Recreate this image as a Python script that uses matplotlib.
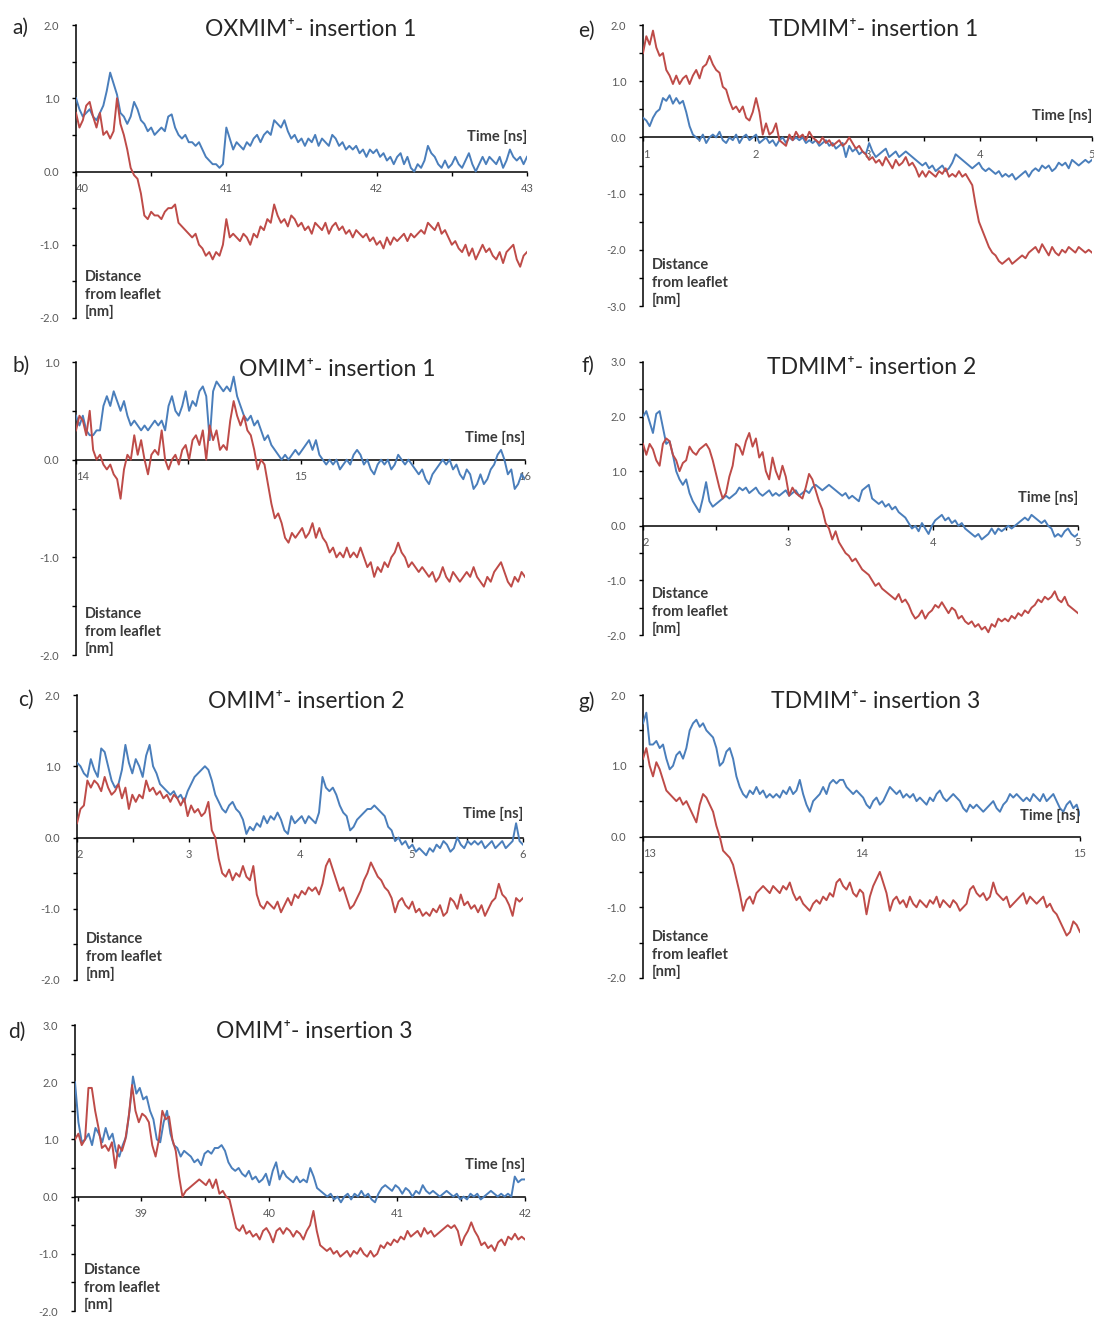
# coding:utf-8
# distance of the cation head/tail from the leaflet during insertion

import numpy as np
import matplotlib
matplotlib.use('Agg')
import matplotlib.pyplot as plt
from matplotlib.ticker import MultipleLocator

plt.rcParams['font.family'] = ['Lato', 'DejaVu Sans']

# ---- data (nm), sampled evenly over each time window (ns) ----
t_a = (40.0, 43.0)
blue_a = [1.0, 0.85, 0.75, 0.8, 0.85, 0.75, 0.7, 0.8, 0.9, 1.1, 1.35, 1.2, 1.05, 0.8, 0.75, 0.65, 0.75, 0.95,
          0.85, 0.7, 0.65, 0.55, 0.6, 0.5, 0.55, 0.6, 0.55, 0.75, 0.78, 0.6, 0.5, 0.45, 0.5, 0.4, 0.4, 0.35,
          0.4, 0.3, 0.2, 0.15, 0.1, 0.1, 0.05, 0.1, 0.6, 0.45, 0.3, 0.4, 0.35, 0.3, 0.4, 0.35, 0.45, 0.5, 0.4,
          0.5, 0.55, 0.5, 0.7, 0.65, 0.6, 0.7, 0.55, 0.45, 0.5, 0.4, 0.45, 0.35, 0.45, 0.4, 0.5, 0.35, 0.45,
          0.4, 0.35, 0.5, 0.45, 0.35, 0.4, 0.3, 0.35, 0.3, 0.35, 0.25, 0.3, 0.2, 0.3, 0.25, 0.3, 0.2, 0.25,
          0.15, 0.2, 0.1, 0.2, 0.25, 0.1, 0.2, 0.05, 0.0, 0.1, 0.05, 0.15, 0.35, 0.25, 0.2, 0.1, 0.05, 0.15,
          0.05, 0.1, 0.2, 0.1, 0.05, 0.15, 0.25, 0.1, 0.0, 0.1, 0.2, 0.1, 0.2, 0.15, 0.1, 0.2, 0.05, 0.15,
          0.3, 0.2, 0.15, 0.2, 0.1, 0.2]
red_a = [0.8, 0.6, 0.7, 0.9, 0.95, 0.75, 0.6, 0.8, 0.5, 0.55, 0.45, 0.55, 1.0, 0.65, 0.5, 0.3, 0.05, -0.05,
         -0.1, -0.3, -0.6, -0.65, -0.55, -0.6, -0.6, -0.65, -0.55, -0.5, -0.5, -0.45, -0.7, -0.75, -0.8,
         -0.85, -0.9, -0.85, -1.0, -1.05, -1.15, -1.1, -1.2, -1.1, -1.15, -1.0, -0.65, -0.9, -0.85, -0.9,
         -0.95, -0.85, -0.9, -1.0, -0.85, -0.9, -0.75, -0.8, -0.65, -0.7, -0.45, -0.6, -0.7, -0.65, -0.75,
         -0.6, -0.65, -0.75, -0.7, -0.8, -0.75, -0.85, -0.7, -0.75, -0.8, -0.7, -0.85, -0.75, -0.7, -0.8,
         -0.75, -0.85, -0.8, -0.9, -0.8, -0.85, -0.9, -0.85, -0.95, -0.9, -1.0, -0.95, -1.05, -0.9, -1.0,
         -0.9, -0.95, -0.9, -0.85, -0.95, -0.85, -0.9, -0.85, -0.8, -0.85, -0.7, -0.75, -0.8, -0.7, -0.85,
         -0.8, -0.9, -1.0, -0.95, -1.05, -1.1, -1.0, -1.15, -1.05, -1.2, -1.1, -1.0, -1.1, -1.05, -1.15,
         -1.2, -1.1, -1.25, -1.1, -1.05, -1.0, -1.2, -1.3, -1.15, -1.1]

t_b = (14.0, 16.0)
blue_b = [0.45, 0.35, 0.45, 0.3, 0.25, 0.25, 0.3, 0.3, 0.55, 0.65, 0.55, 0.7, 0.6, 0.5, 0.6, 0.45, 0.35,
          0.4, 0.35, 0.3, 0.35, 0.3, 0.35, 0.4, 0.35, 0.4, 0.3, 0.55, 0.65, 0.5, 0.45, 0.55, 0.7, 0.5, 0.6,
          0.55, 0.7, 0.75, 0.65, 0.2, 0.7, 0.8, 0.75, 0.7, 0.75, 0.7, 0.85, 0.65, 0.55, 0.45, 0.4, 0.45,
          0.35, 0.4, 0.3, 0.2, 0.25, 0.15, 0.1, 0.05, 0.0, 0.05, 0.0, 0.05, 0.1, 0.05, 0.1, 0.15, 0.2, 0.1,
          0.2, 0.05, 0.0, -0.05, 0.0, -0.05, 0.0, -0.1, -0.05, 0.0, -0.05, 0.05, 0.1, 0.05, -0.05, 0.0,
          -0.1, -0.15, -0.05, 0.0, -0.05, 0.0, -0.1, -0.05, 0.05, 0.0, -0.05, 0.0, -0.05, -0.1, -0.15,
          -0.1, -0.2, -0.25, -0.15, -0.1, -0.05, 0.0, -0.05, 0.0, -0.1, -0.05, -0.15, -0.2, -0.1, -0.15,
          -0.3, -0.25, -0.15, -0.25, -0.2, -0.1, -0.05, 0.05, 0.1, 0.0, -0.15, -0.1, -0.3, -0.25, -0.15,
          -0.2]
red_b = [0.3, 0.45, 0.4, 0.25, 0.5, 0.1, 0.0, 0.05, -0.05, -0.1, -0.05, -0.15, -0.2, -0.4, -0.1, 0.05,
         0.0, 0.25, 0.05, 0.2, 0.0, -0.15, 0.05, 0.1, 0.05, 0.3, 0.0, -0.1, 0.0, 0.05, -0.05, 0.1, 0.15,
         0.0, 0.2, 0.25, 0.15, 0.3, 0.0, 0.35, 0.2, 0.3, 0.1, 0.15, 0.1, 0.4, 0.6, 0.45, 0.35, 0.45, 0.3,
         0.25, 0.1, -0.1, 0.0, -0.05, -0.25, -0.45, -0.6, -0.55, -0.65, -0.8, -0.85, -0.75, -0.8, -0.75,
         -0.7, -0.8, -0.75, -0.65, -0.8, -0.7, -0.8, -0.85, -0.95, -0.9, -1.0, -0.95, -1.0, -0.9, -1.0,
         -0.95, -1.0, -0.9, -1.0, -1.1, -1.05, -1.2, -1.1, -1.15, -1.05, -1.1, -1.0, -0.95, -0.85, -0.95,
         -1.0, -1.1, -1.05, -1.1, -1.15, -1.1, -1.15, -1.2, -1.15, -1.25, -1.2, -1.1, -1.2, -1.25, -1.15,
         -1.2, -1.25, -1.2, -1.15, -1.2, -1.1, -1.2, -1.25, -1.3, -1.2, -1.25, -1.15, -1.1, -1.05, -1.15,
         -1.25, -1.3, -1.2, -1.25, -1.15, -1.2]

t_c = (2.0, 6.0)
blue_c = [1.05, 1.0, 0.9, 0.85, 1.1, 0.95, 0.85, 1.25, 1.2, 1.0, 0.8, 0.7, 0.75, 0.95, 1.3, 1.05, 0.9,
          1.1, 1.0, 0.85, 1.15, 1.3, 1.0, 0.9, 0.75, 0.7, 0.65, 0.6, 0.65, 0.55, 0.6, 0.5, 0.65, 0.75, 0.85,
          0.9, 0.95, 1.0, 0.95, 0.8, 0.6, 0.5, 0.4, 0.35, 0.45, 0.5, 0.4, 0.35, 0.25, 0.05, 0.15, 0.1, 0.2,
          0.15, 0.3, 0.2, 0.3, 0.25, 0.35, 0.25, 0.1, 0.05, 0.3, 0.2, 0.25, 0.3, 0.2, 0.3, 0.25, 0.2, 0.35,
          0.85, 0.7, 0.65, 0.7, 0.6, 0.45, 0.35, 0.3, 0.1, 0.15, 0.25, 0.3, 0.35, 0.4, 0.4, 0.45, 0.4, 0.35,
          0.3, 0.15, 0.1, -0.05, 0.0, -0.1, -0.05, -0.15, -0.1, -0.2, -0.15, -0.2, -0.25, -0.15, -0.2, -0.1,
          -0.15, -0.05, -0.1, -0.2, -0.15, 0.0, -0.1, -0.15, -0.05, -0.1, -0.05, -0.1, -0.05, -0.15, -0.1,
          -0.05, -0.15, -0.1, -0.05, -0.15, -0.1, -0.05, 0.2, -0.05, -0.1]
red_c = [0.2, 0.4, 0.45, 0.8, 0.7, 0.8, 0.75, 0.65, 0.85, 0.7, 0.6, 0.65, 0.75, 0.55, 0.7, 0.4, 0.6, 0.5,
         0.6, 0.55, 0.8, 0.65, 0.7, 0.6, 0.65, 0.55, 0.6, 0.5, 0.6, 0.55, 0.45, 0.55, 0.3, 0.45, 0.35, 0.4,
         0.3, 0.35, 0.5, 0.1, 0.0, -0.3, -0.5, -0.55, -0.45, -0.6, -0.5, -0.55, -0.4, -0.55, -0.6, -0.4,
         -0.8, -0.95, -1.0, -0.9, -0.95, -1.0, -0.9, -1.05, -0.95, -0.85, -0.95, -0.8, -0.85, -0.75, -0.8,
         -0.7, -0.75, -0.7, -0.8, -0.65, -0.4, -0.3, -0.45, -0.6, -0.75, -0.7, -0.85, -1.0, -0.95, -0.85,
         -0.75, -0.6, -0.5, -0.35, -0.45, -0.55, -0.6, -0.7, -0.75, -0.85, -1.05, -0.9, -0.85, -0.95, -1.0,
         -0.9, -1.05, -1.0, -1.1, -1.05, -1.1, -1.0, -1.05, -0.95, -1.1, -1.05, -0.85, -0.9, -1.0, -0.8,
         -0.95, -0.9, -1.0, -0.95, -1.05, -0.95, -1.1, -1.0, -0.9, -0.85, -0.65, -0.8, -0.85, -0.95, -1.1,
         -0.85, -0.9, -0.85]

t_d = (38.48, 42.0)
blue_d = [2.0, 1.3, 0.95, 1.0, 1.1, 0.9, 1.2, 1.1, 0.95, 1.2, 1.0, 1.1, 0.8, 0.7, 0.9, 1.05, 1.5, 2.1, 1.8,
          1.9, 1.7, 1.75, 1.5, 1.35, 1.0, 0.95, 1.3, 1.5, 1.1, 0.9, 0.85, 0.7, 0.8, 0.75, 0.7, 0.6, 0.65,
          0.55, 0.75, 0.8, 0.75, 0.85, 0.85, 0.9, 0.8, 0.6, 0.5, 0.45, 0.5, 0.4, 0.35, 0.45, 0.3, 0.35, 0.25,
          0.3, 0.4, 0.2, 0.45, 0.6, 0.3, 0.45, 0.35, 0.3, 0.25, 0.35, 0.25, 0.3, 0.25, 0.5, 0.35, 0.15, 0.1,
          0.05, 0.0, 0.05, -0.05, 0.0, -0.1, 0.0, 0.05, -0.05, 0.05, 0.0, 0.1, 0.0, 0.05, -0.05, -0.1, 0.05,
          0.15, 0.2, 0.15, 0.1, 0.2, 0.15, 0.05, 0.15, 0.1, 0.0, 0.1, 0.05, 0.2, 0.1, 0.05, 0.1, 0.05, 0.0,
          0.05, 0.1, 0.05, 0.0, 0.05, -0.05, 0.0, -0.05, 0.05, 0.0, 0.05, -0.05, 0.0, 0.05, 0.1, 0.05, 0.0,
          0.05, 0.0, 0.05, 0.0, 0.35, 0.25, 0.3, 0.3]
red_d = [1.0, 1.1, 0.9, 1.0, 1.9, 1.9, 1.5, 1.2, 0.85, 0.9, 0.8, 0.95, 0.5, 0.9, 0.8, 1.0, 1.4, 1.95, 1.5,
         1.3, 1.45, 1.4, 1.3, 0.9, 0.7, 1.0, 1.5, 1.35, 1.4, 1.0, 0.8, 0.35, 0.0, 0.1, 0.15, 0.2, 0.25, 0.3,
         0.25, 0.2, 0.3, 0.15, 0.3, 0.05, 0.1, 0.0, -0.05, -0.3, -0.55, -0.6, -0.5, -0.65, -0.6, -0.7,
         -0.65, -0.75, -0.6, -0.55, -0.65, -0.8, -0.6, -0.55, -0.65, -0.55, -0.6, -0.7, -0.6, -0.65, -0.75,
         -0.6, -0.5, -0.25, -0.6, -0.85, -0.9, -0.95, -0.9, -1.0, -0.95, -1.05, -1.0, -0.95, -1.05, -0.95,
         -1.0, -0.9, -1.0, -1.05, -0.95, -1.05, -1.0, -0.85, -0.9, -0.8, -0.85, -0.75, -0.8, -0.7, -0.75,
         -0.6, -0.7, -0.65, -0.6, -0.7, -0.55, -0.65, -0.6, -0.7, -0.65, -0.6, -0.55, -0.5, -0.55, -0.5,
         -0.6, -0.85, -0.7, -0.6, -0.45, -0.6, -0.7, -0.85, -0.8, -0.9, -0.85, -0.95, -0.8, -0.75, -0.85,
         -0.7, -0.75, -0.65, -0.75, -0.7, -0.75]

t_e = (1.0, 5.0)
blue_e = [0.35, 0.3, 0.2, 0.35, 0.45, 0.5, 0.7, 0.65, 0.75, 0.6, 0.7, 0.6, 0.65, 0.45, 0.2, 0.05, 0.0,
          -0.05, 0.05, -0.1, 0.0, 0.05, 0.0, 0.1, -0.05, -0.1, 0.0, -0.05, 0.05, -0.1, 0.0, 0.05, -0.05, 0.0,
          0.05, -0.1, -0.05, 0.0, -0.1, -0.05, -0.15, -0.05, 0.0, -0.1, 0.0, -0.05, 0.0, -0.05, 0.0, -0.1,
          -0.05, -0.1, -0.05, -0.15, -0.1, -0.05, -0.15, -0.1, -0.2, -0.15, -0.1, -0.35, -0.15, -0.25, -0.2,
          -0.3, -0.25, -0.3, -0.1, -0.25, -0.35, -0.3, -0.25, -0.2, -0.35, -0.3, -0.25, -0.35, -0.3, -0.25,
          -0.3, -0.35, -0.4, -0.45, -0.5, -0.45, -0.55, -0.5, -0.6, -0.55, -0.5, -0.6, -0.55, -0.45, -0.3,
          -0.35, -0.4, -0.45, -0.5, -0.55, -0.5, -0.45, -0.55, -0.6, -0.55, -0.6, -0.65, -0.6, -0.7, -0.65,
          -0.7, -0.65, -0.75, -0.7, -0.65, -0.6, -0.7, -0.6, -0.55, -0.6, -0.5, -0.55, -0.5, -0.6, -0.55,
          -0.45, -0.5, -0.45, -0.55, -0.4, -0.45, -0.5, -0.45, -0.4, -0.45, -0.4]
red_e = [1.5, 1.8, 1.65, 1.9, 1.6, 1.45, 1.5, 1.2, 1.1, 0.95, 1.1, 0.95, 1.05, 1.1, 0.95, 1.1, 1.2, 1.05,
         1.25, 1.3, 1.45, 1.3, 1.2, 1.15, 0.9, 0.85, 0.65, 0.5, 0.55, 0.45, 0.55, 0.35, 0.3, 0.45, 0.7, 0.45,
         0.05, 0.25, 0.05, 0.1, 0.25, -0.05, -0.1, -0.15, 0.05, -0.05, 0.1, 0.0, 0.05, -0.05, 0.1, 0.0,
         -0.05, -0.1, 0.0, -0.1, -0.05, -0.15, -0.1, -0.05, -0.15, -0.1, 0.0, -0.1, -0.2, -0.15, -0.25,
         -0.3, -0.4, -0.35, -0.45, -0.4, -0.5, -0.35, -0.45, -0.55, -0.4, -0.5, -0.45, -0.35, -0.5, -0.45,
         -0.55, -0.7, -0.6, -0.7, -0.6, -0.65, -0.7, -0.6, -0.65, -0.55, -0.7, -0.65, -0.7, -0.6, -0.7,
         -0.65, -0.75, -0.85, -1.2, -1.5, -1.65, -1.8, -1.95, -2.05, -2.1, -2.2, -2.25, -2.2, -2.15, -2.25,
         -2.2, -2.15, -2.1, -2.15, -2.05, -2.0, -1.95, -2.05, -1.9, -2.0, -2.1, -1.95, -2.05, -2.1, -2.0,
         -2.05, -1.95, -2.0, -2.05, -1.95, -2.0, -2.05, -2.0, -2.05]

t_f = (2.0, 5.0)
blue_f = [2.0, 2.1, 1.9, 1.7, 2.05, 2.1, 1.8, 1.5, 1.55, 1.3, 1.0, 0.85, 0.75, 0.85, 0.6, 0.45, 0.35, 0.25,
          0.5, 0.8, 0.45, 0.35, 0.4, 0.45, 0.5, 0.55, 0.5, 0.55, 0.6, 0.7, 0.65, 0.7, 0.6, 0.65, 0.7, 0.6,
          0.55, 0.6, 0.65, 0.55, 0.6, 0.55, 0.6, 0.65, 0.55, 0.6, 0.65, 0.55, 0.6, 0.65, 0.6, 0.7, 0.75,
          0.7, 0.65, 0.7, 0.75, 0.7, 0.65, 0.6, 0.55, 0.6, 0.5, 0.55, 0.5, 0.45, 0.65, 0.7, 0.75, 0.5, 0.45,
          0.4, 0.45, 0.35, 0.4, 0.3, 0.35, 0.25, 0.2, 0.15, 0.05, -0.05, 0.0, -0.1, 0.05, -0.05, -0.15, 0.0,
          0.1, 0.15, 0.2, 0.1, 0.15, 0.05, 0.1, 0.0, 0.05, -0.05, -0.1, -0.15, -0.2, -0.15, -0.25, -0.2,
          -0.15, -0.05, -0.15, -0.05, -0.1, -0.05, 0.0, -0.05, 0.0, 0.05, 0.1, 0.15, 0.1, 0.2, 0.15, 0.1,
          0.05, 0.1, 0.0, -0.05, -0.2, -0.15, -0.2, -0.1, -0.05, -0.15, -0.2, -0.15]
red_f = [1.5, 1.3, 1.5, 1.4, 1.2, 1.1, 1.5, 1.6, 1.55, 1.3, 1.2, 1.0, 1.15, 1.2, 1.45, 1.35, 1.3, 1.4, 1.45,
         1.5, 1.4, 1.2, 0.95, 0.7, 0.5, 0.6, 0.9, 1.1, 1.5, 1.45, 1.3, 1.55, 1.7, 1.45, 1.6, 1.25, 1.35,
         1.0, 0.85, 1.25, 1.0, 0.85, 1.1, 0.9, 0.55, 0.7, 0.6, 0.55, 0.5, 0.7, 0.95, 0.85, 0.65, 0.45, 0.3,
         0.05, -0.05, -0.25, -0.1, -0.3, -0.4, -0.5, -0.55, -0.65, -0.6, -0.7, -0.8, -0.85, -0.9, -1.0,
         -1.1, -1.05, -1.15, -1.2, -1.25, -1.3, -1.35, -1.25, -1.4, -1.35, -1.45, -1.6, -1.7, -1.65, -1.55,
         -1.7, -1.6, -1.55, -1.45, -1.5, -1.4, -1.5, -1.6, -1.5, -1.55, -1.7, -1.65, -1.75, -1.8, -1.75,
         -1.85, -1.8, -1.9, -1.85, -1.95, -1.8, -1.85, -1.7, -1.75, -1.7, -1.75, -1.65, -1.7, -1.6, -1.65,
         -1.55, -1.6, -1.5, -1.45, -1.35, -1.4, -1.3, -1.35, -1.3, -1.2, -1.35, -1.4, -1.3, -1.45, -1.5,
         -1.55, -1.6]

t_g = (13.0, 15.0)
blue_g = [1.6, 1.75, 1.3, 1.3, 1.35, 1.25, 1.3, 1.1, 0.95, 1.0, 1.15, 1.2, 1.1, 1.25, 1.5, 1.6, 1.65, 1.55,
          1.6, 1.5, 1.45, 1.4, 1.25, 1.0, 1.05, 1.2, 1.25, 1.1, 0.85, 0.7, 0.6, 0.55, 0.65, 0.6, 0.7, 0.6,
          0.65, 0.55, 0.6, 0.55, 0.6, 0.55, 0.65, 0.6, 0.7, 0.6, 0.65, 0.8, 0.6, 0.45, 0.35, 0.5, 0.55, 0.6,
          0.7, 0.6, 0.75, 0.8, 0.75, 0.8, 0.8, 0.7, 0.65, 0.6, 0.65, 0.6, 0.55, 0.45, 0.4, 0.5, 0.55, 0.45,
          0.5, 0.6, 0.7, 0.65, 0.6, 0.65, 0.55, 0.6, 0.55, 0.6, 0.5, 0.55, 0.5, 0.45, 0.55, 0.5, 0.6, 0.65,
          0.55, 0.5, 0.55, 0.6, 0.55, 0.5, 0.4, 0.35, 0.45, 0.4, 0.45, 0.4, 0.35, 0.4, 0.45, 0.5, 0.4, 0.35,
          0.45, 0.5, 0.6, 0.55, 0.6, 0.55, 0.5, 0.55, 0.5, 0.6, 0.55, 0.5, 0.6, 0.5, 0.55, 0.6, 0.5, 0.4,
          0.35, 0.45, 0.5, 0.4, 0.45, 0.3]
red_g = [1.1, 1.25, 1.0, 0.85, 1.05, 0.95, 0.8, 0.65, 0.6, 0.55, 0.5, 0.55, 0.45, 0.5, 0.4, 0.3, 0.2, 0.45,
         0.6, 0.55, 0.45, 0.35, 0.15, 0.0, -0.2, -0.25, -0.3, -0.4, -0.6, -0.8, -1.05, -0.9, -0.85, -0.95,
         -0.8, -0.75, -0.7, -0.75, -0.8, -0.7, -0.75, -0.8, -0.7, -0.75, -0.65, -0.8, -0.9, -0.85, -0.95,
         -1.0, -1.05, -0.95, -0.9, -0.95, -0.85, -0.9, -0.8, -0.85, -0.65, -0.6, -0.7, -0.75, -0.65, -0.8,
         -0.85, -0.75, -0.8, -1.1, -0.85, -0.7, -0.6, -0.5, -0.65, -0.8, -1.05, -0.9, -0.85, -0.95, -0.9,
         -1.0, -0.85, -0.95, -1.0, -0.9, -0.95, -1.0, -0.9, -0.95, -0.85, -1.0, -0.9, -0.95, -1.0, -0.9,
         -0.95, -1.05, -1.0, -0.95, -0.75, -0.7, -0.8, -0.85, -0.8, -0.9, -0.85, -0.65, -0.8, -0.85, -0.9,
         -0.85, -1.0, -0.95, -0.9, -0.85, -0.8, -0.95, -0.85, -0.9, -0.95, -0.9, -0.85, -1.0, -0.95, -1.05,
         -1.1, -1.2, -1.3, -1.4, -1.35, -1.2, -1.25, -1.35]

W, H = 1094, 1318
BLUE = '#4a7ebb'
RED = '#be4b48'
GREY = '#595959'
DARK = '#3a3a3a'

fig = plt.figure(figsize=(W / 100, H / 100), dpi=100)


def fx(x):
    return x / W


def fy(y):
    return 1 - y / H


def panel(letter, title, box, trange, ylim, blue, red, letter_xy, title_xy, time_y):
    # box = (left, right, top, bottom) in pixels
    x0, x1, y0, y1 = box
    ax = fig.add_axes([fx(x0), fy(y1), (x1 - x0) / W, (y1 - y0) / H])
    ax.patch.set_alpha(0)

    ax.plot(np.linspace(trange[0], trange[1], len(blue)), blue, color=BLUE, lw=1.4, zorder=3)
    ax.plot(np.linspace(trange[0], trange[1], len(red)), red, color=RED, lw=1.4, zorder=3)

    ax.set_xlim(trange)
    ax.set_ylim(ylim)

    # axes: left spine + horizontal line through zero
    for s in ['top', 'right']:
        ax.spines[s].set_visible(False)
    ax.spines['bottom'].set_position(('data', 0))
    ax.spines['left'].set_linewidth(1.1)
    ax.spines['bottom'].set_linewidth(1.1)

    yt = np.arange(ylim[0], ylim[1] + 0.01, 1.0)
    ax.set_yticks(yt, ['%.1f' % v for v in yt])
    ax.yaxis.set_minor_locator(MultipleLocator(0.5))
    xt = np.arange(np.ceil(trange[0]), np.floor(trange[1]) + 0.01, 1.0)
    ax.set_xticks(xt, ['%d' % v for v in xt])
    ax.xaxis.set_minor_locator(MultipleLocator(0.5))

    ax.tick_params(axis='y', which='both', direction='out', length=3, width=1.0,
                   labelsize=8, labelcolor=GREY, pad=9)
    ax.tick_params(axis='x', which='both', direction='out', length=3, width=1.0,
                   labelsize=8, labelcolor=GREY, pad=5)
    if xt[0] == trange[0]:
        ax.get_xticklabels()[0].set_horizontalalignment('left')

    fig.text(fx(letter_xy[0]), fy(letter_xy[1]), letter, ha='left', va='center',
             fontsize=15, color='#262626')
    fig.text(fx(title_xy[0]), fy(title_xy[1]), title, ha='center', va='center',
             fontsize=16.5, color='#262626')
    fig.text(fx(x1), fy(time_y), 'Time [ns]', ha='right', va='center',
             fontsize=10.5, fontweight='bold', color=DARK)
    fig.text(fx(x0 + 9), fy(y1 + 1), 'Distance\nfrom leaflet\n[nm]', ha='left', va='bottom',
             fontsize=10.5, fontweight='bold', color=DARK, linespacing=1.3)
    return ax


panel('a)', 'OXMIM\u207a- insertion 1', (76, 527, 25, 318), t_a, (-2, 2), blue_a, red_a,
      (12, 28), (311, 29), 137)
panel('b)', 'OMIM\u207a- insertion 1', (76, 525, 362, 655), t_b, (-2, 1), blue_b, red_b,
      (12, 366), (337, 369), 438)
panel('c)', 'OMIM\u207a- insertion 2', (77, 523, 695, 980), t_c, (-2, 2), blue_c, red_c,
      (18, 700), (306, 701), 814)
panel('d)', 'OMIM\u207a- insertion 3', (75, 525, 1025, 1311), t_d, (-2, 3), blue_d, red_d,
      (8, 1032), (314, 1032), 1165)
panel('e)', 'TDMIM\u207a- insertion 1', (643, 1092, 25, 306), t_e, (-3, 2), blue_e, red_e,
      (578, 31), (874, 30), 116)
panel('f)', 'TDMIM\u207a- insertion 2', (643, 1078, 362, 635), t_f, (-2, 3), blue_f, red_f,
      (582, 366), (872, 367), 498)
panel('g)', 'TDMIM\u207a- insertion 3', (643, 1080, 695, 978), t_g, (-2, 2), blue_g, red_g,
      (578, 702), (876, 702), 816)

fig.savefig('out.png', dpi=100)
